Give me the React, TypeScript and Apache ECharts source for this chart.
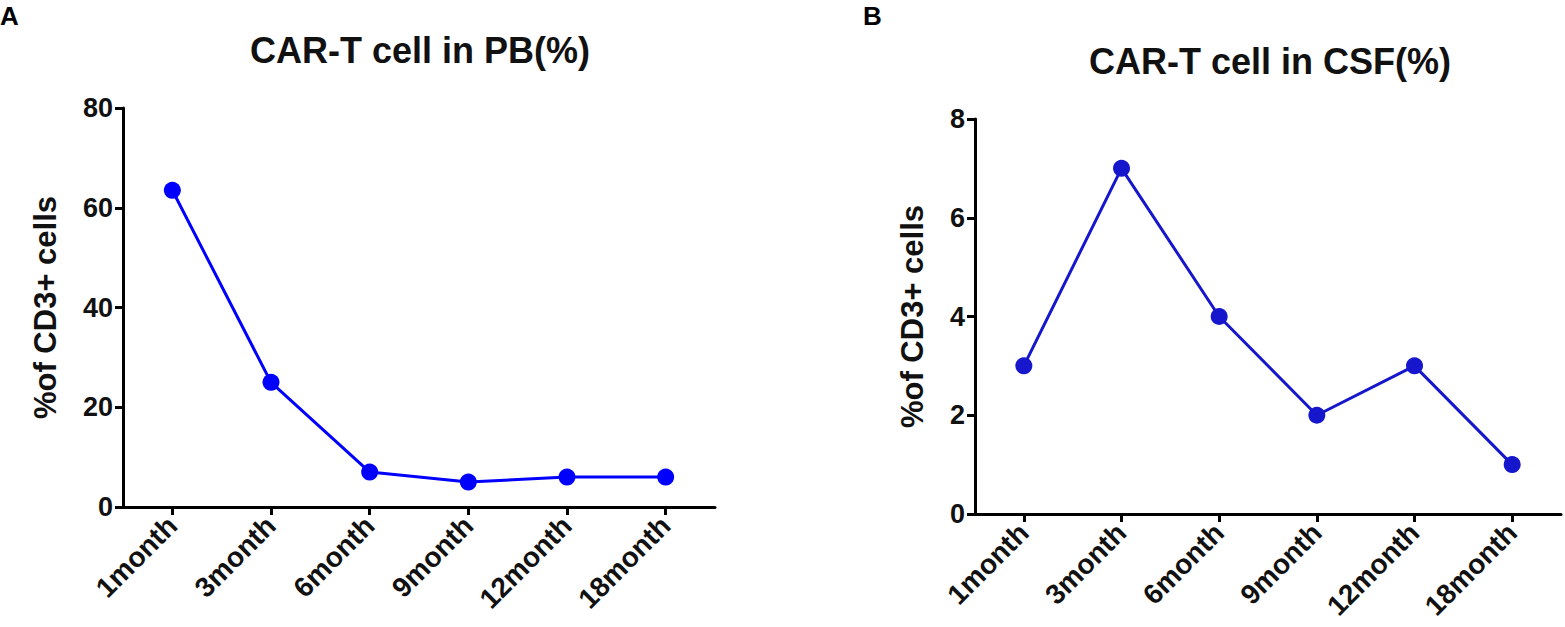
import React, { useEffect, useRef } from "react";
import * as echarts from "echarts";

const categories = ["1month", "3month", "6month", "9month", "12month", "18month"];
const pbValues = [63.5, 25, 7, 5, 6, 6];
const csfValues = [3, 7, 4, 2, 3, 1];
const pbTitle = "CAR-T cell in PB(%)";
const csfTitle = "CAR-T cell in CSF(%)";
const yName = "%of CD3+ cells";

const FONT = "'Liberation Sans', Arial, Helvetica, sans-serif";

export default function App() {
  const ref = useRef<HTMLDivElement>(null);
  useEffect(() => {
    document.body.style.margin = "0";
    const chart = echarts.init(ref.current!, null, { renderer: "svg" });
    const axisLine = { show: true, lineStyle: { color: "#000", width: 3 } };
    const axisTick = { show: true, length: 8, lineStyle: { color: "#000", width: 3 } };
    const xAxisCommon = (gridIndex: number) => ({
      type: "category",
      gridIndex,
      data: categories,
      boundaryGap: true,
      axisLine,
      axisTick: { ...axisTick, alignWithLabel: true },
      axisLabel: {
        rotate: 45,
        margin: 14,
        color: "#111",
        fontFamily: FONT,
        fontWeight: "bold",
        fontSize: 28,
        interval: 0,
      },
      splitLine: { show: false },
    });
    const yAxisCommon = (gridIndex: number, max: number, interval: number, gap: number) => ({
      type: "value",
      gridIndex,
      min: 0,
      max,
      interval,
      name: yName,
      nameLocation: "middle",
      nameGap: gap,
      nameRotate: 90,
      nameTextStyle: { color: "#111", fontFamily: FONT, fontWeight: "bold", fontSize: 31 },
      axisLine,
      axisTick,
      axisLabel: { margin: 10, color: "#111", fontFamily: FONT, fontWeight: "bold", fontSize: 27 },
      splitLine: { show: false },
    });
    chart.setOption({
      animation: false,
      backgroundColor: "#fff",
      grid: [
        { left: 123, top: 108, width: 592, height: 399 },
        { left: 975, top: 119, width: 586, height: 395 },
      ],
      xAxis: [xAxisCommon(0), xAxisCommon(1)],
      yAxis: [yAxisCommon(0, 80, 20, 62), yAxisCommon(1, 8, 2, 47)],
      graphic: [
        { type: "text", x: 0, y: 3, style: { text: "A", font: `bold 26px ${FONT}`, fill: "#000" } },
        { type: "text", x: 863, y: 3, style: { text: "B", font: `bold 26px ${FONT}`, fill: "#000" } },
        {
          type: "text",
          x: 420,
          y: 50,
          style: { text: pbTitle, font: `bold 36px ${FONT}`, fill: "#111", align: "center", verticalAlign: "middle" },
        },
        {
          type: "text",
          x: 1270,
          y: 61,
          style: { text: csfTitle, font: `bold 36px ${FONT}`, fill: "#111", align: "center", verticalAlign: "middle" },
        },
      ],
      series: [
        {
          type: "line",
          xAxisIndex: 0,
          yAxisIndex: 0,
          data: pbValues,
          symbol: "circle",
          symbolSize: 17,
          color: "#0000FF",
          lineStyle: { color: "#0000FF", width: 3 },
          itemStyle: { color: "#0000FF" },
        },
        {
          type: "line",
          xAxisIndex: 1,
          yAxisIndex: 1,
          data: csfValues,
          symbol: "circle",
          symbolSize: 17,
          color: "#1616CC",
          lineStyle: { color: "#1616CC", width: 3 },
          itemStyle: { color: "#1616CC" },
        },
      ],
    });
    return () => chart.dispose();
  }, []);
  return <div ref={ref} style={{ width: 1565, height: 627, position: "absolute", left: 0, top: 0 }} />;
}
